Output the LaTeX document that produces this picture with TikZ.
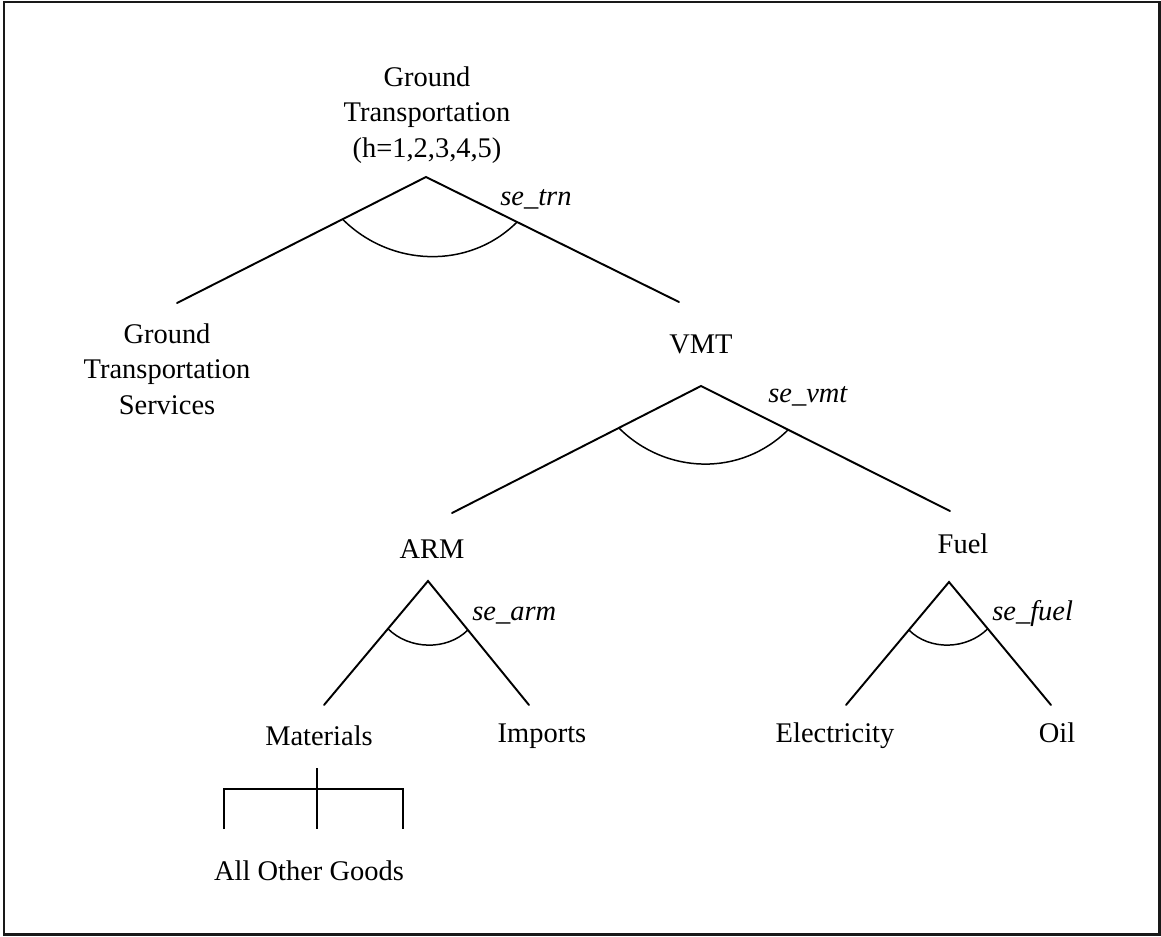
\documentclass[tikz,border=0pt]{standalone}
\usepackage{fontspec}
\setmainfont{Liberation Serif}
\usetikzlibrary{calc}

\tikzset{
  lbl/.style={inner sep=0pt, font=\fontsize{16.2}{20.2}\selectfont},
  mlbl/.style={lbl, align=center},
  elas/.style={lbl, anchor=base west, font=\fontsize{16.2}{20.2}\selectfont\itshape},
  leg/.style={line width=1.1pt, line cap=round},
  arcline/.style={line width=0.85pt},
  frame/.style={line width=1.7pt, draw=black!90}
}
% arc between the two legs of a nest: start, end, control offset
\newcommand\nestarc[3]{%
  \draw[arcline] (#1) .. controls ($(#1)+(#3,#3)$) and ($(#2)+(-#3,#3)$) .. (#2);}

\begin{document}
\begin{tikzpicture}[x=0.02cm, y=-0.02cm]
\useasboundingbox (0,0) rectangle (1161,937);
\draw[frame] (4,2) rectangle (1159.5,934.5);

% ---- labels
\node[mlbl] (gt)  at (427,115) {Ground\\Transportation\\(h=1,2,3,4,5)};
\node[mlbl] (gts) at (167,369) {Ground\\Transportation\\Services};
\node[lbl, anchor=base] (vmt)  at (701,353) {VMT};
\node[lbl, anchor=base] (arm)  at (432,558) {ARM};
\node[lbl, anchor=base] (fuel) at (963,553) {Fuel};
\node[lbl, anchor=base] (mat)  at (319,745) {Materials};
\node[lbl, anchor=base] (imp)  at (542,742) {Imports};
\node[lbl, anchor=base] (ele)  at (835,742) {Electricity};
\node[lbl, anchor=base] (oil)  at (1057,742) {Oil};
\node[lbl, anchor=base] (aog)  at (309,880) {All Other Goods};

\node[elas] (etrn)  at (500,205) {se\_trn};
\node[elas] (evmt)  at (768,402) {se\_vmt};
\node[elas] (earm)  at (472,620) {se\_arm};
\node[elas] (efuel) at (992,620) {se\_fuel};

% ---- nest apexes and leg ends
\coordinate (gtA) at (426,177);
\coordinate (gtL) at (177,303);
\coordinate (gtR) at (679,302);

\coordinate (vmtA) at (701,386);
\coordinate (vmtL) at (452,513);
\coordinate (vmtR) at (950,511);

\coordinate (armA) at (428,581);
\coordinate (armL) at (324,705);
\coordinate (armR) at (529,705);

\coordinate (fuelA) at (949,582);
\coordinate (fuelL) at (846,705);
\coordinate (fuelR) at (1051,705);

% ---- legs
\draw[leg] (gtL) -- (gtA) -- (gtR);
\draw[leg] (vmtL) -- (vmtA) -- (vmtR);
\draw[leg] (armL) -- (armA) -- (armR);
\draw[leg] (fuelL) -- (fuelA) -- (fuelR);

% ---- substitution arcs
\coordinate (gta1) at ($(gtA)!0.335!(gtL)$);
\coordinate (gta2) at ($(gtA)!0.36!(gtR)$);
\nestarc{gta1}{gta2}{48}

\coordinate (vmta1) at ($(vmtA)!0.33!(vmtL)$);
\coordinate (vmta2) at ($(vmtA)!0.35!(vmtR)$);
\nestarc{vmta1}{vmta2}{47}

\coordinate (arma1) at ($(armA)!0.385!(armL)$);
\coordinate (arma2) at ($(armA)!0.395!(armR)$);
\nestarc{arma1}{arma2}{21}

\coordinate (fuela1) at ($(fuelA)!0.39!(fuelL)$);
\coordinate (fuela2) at ($(fuelA)!0.38!(fuelR)$);
\nestarc{fuela1}{fuela2}{21}

% ---- Leontief bracket under Materials
\coordinate (brTop) at (317,768);
\coordinate (brMid) at (317,789);
\coordinate (brC)   at (317,829);
\coordinate (brL0)  at (224,789);
\coordinate (brL)   at (224,829);
\coordinate (brR0)  at (403,789);
\coordinate (brR)   at (403,829);
\draw[leg, line cap=butt] (brTop) -- (brC);
\draw[leg, line cap=butt] (brL) -- (brL0) -- (brR0) -- (brR);
\end{tikzpicture}
\end{document}
